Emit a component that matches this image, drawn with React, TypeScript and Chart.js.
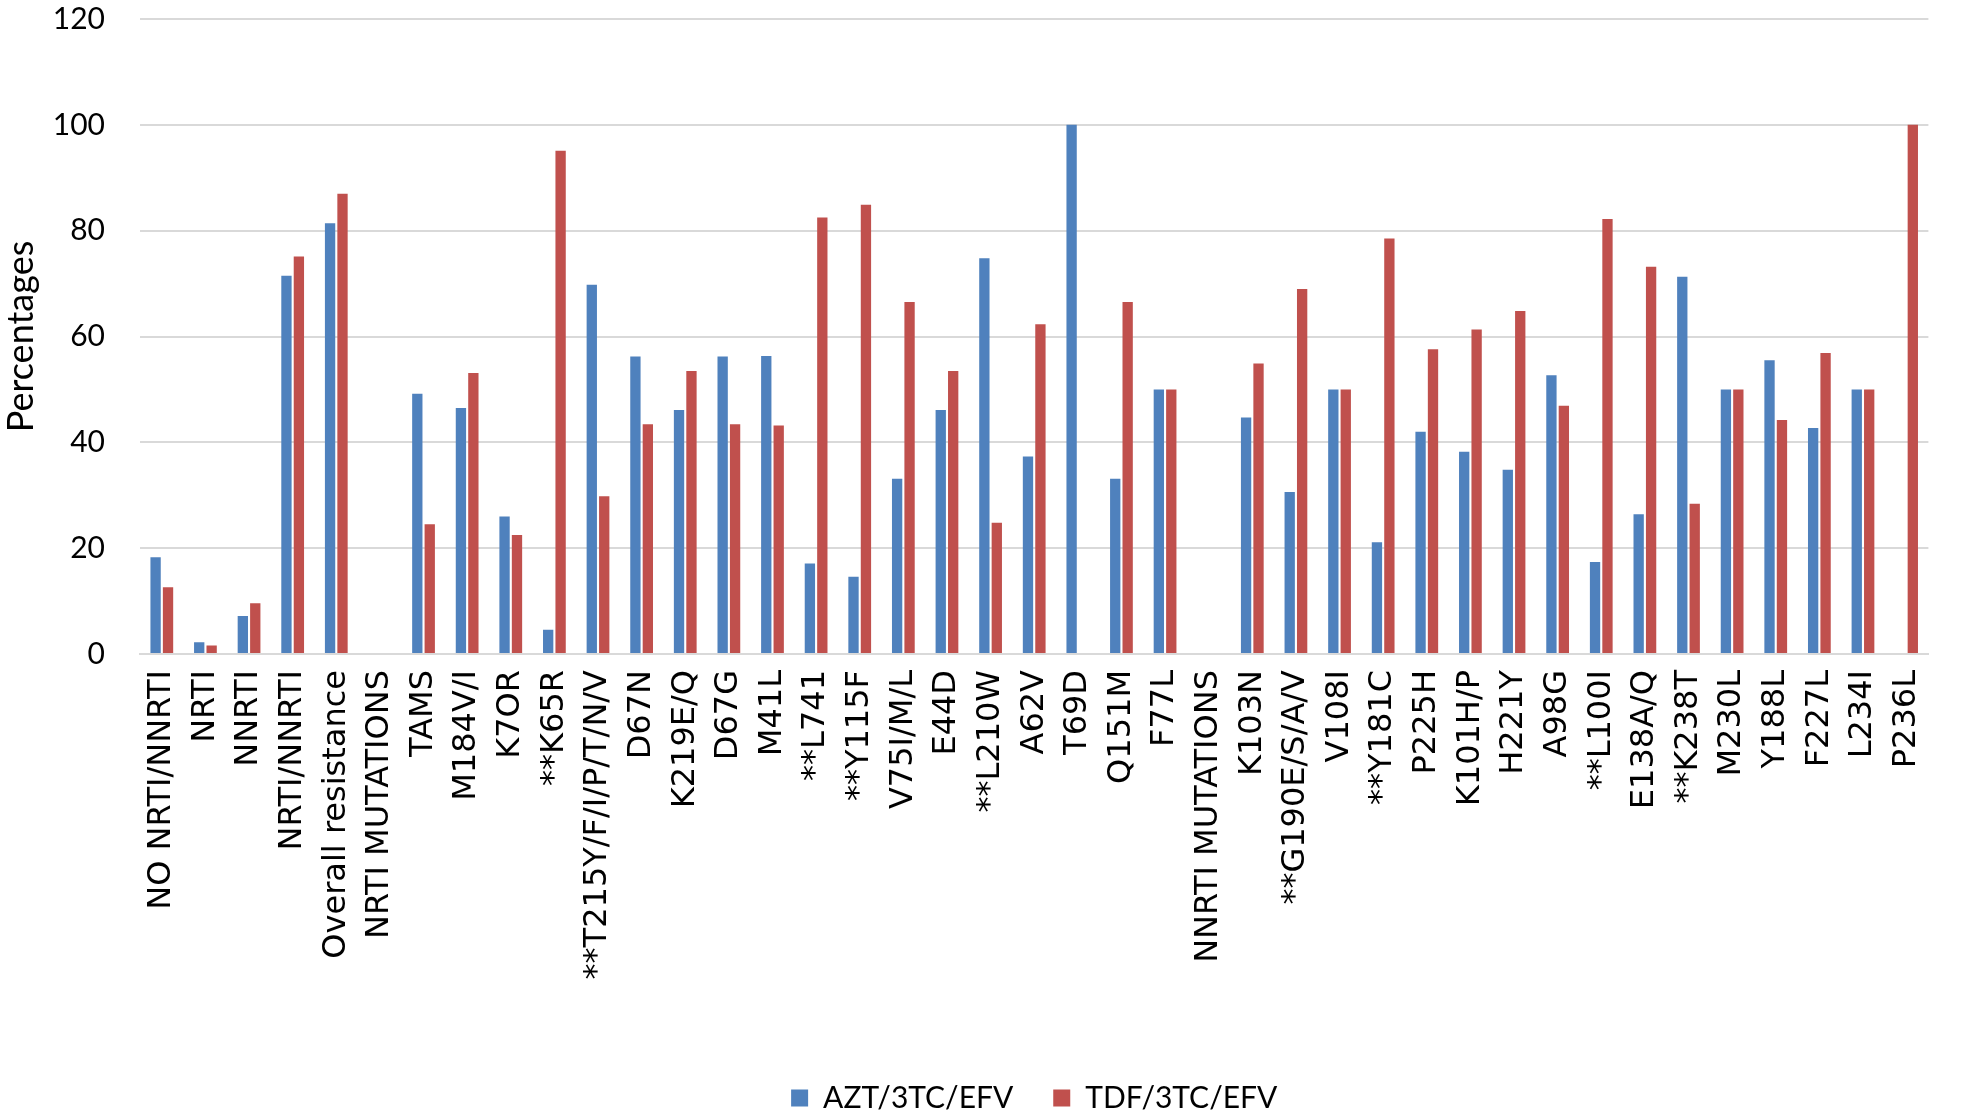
import React, { useEffect, useRef } from "react";
import { Chart, registerables } from "chart.js";

Chart.register(...registerables);

const categories: string[] = [
  "NO NRTI/NNRTI", "NRTI", "NNRTI", "NRTI/NNRTI", "Overall resistance", "NRTI MUTATIONS",
  "TAMS", "M184V/I", "K7OR", "**K65R", "**T215Y/F/I/P/T/N/V", "D67N", "K219E/Q", "D67G",
  "M41L", "**L741", "**Y115F", "V75I/M/L", "E44D", "**L210W", "A62V", "T69D", "Q151M",
  "F77L", "NNRTI MUTATIONS", "K103N", "**G190E/S/A/V", "V108I", "**Y181C", "P225H",
  "K101H/P", "H221Y", "A98G", "**L100I", "E138A/Q", "**K238T", "M230L", "Y188L",
  "F227L", "L234I", "P236L",
];

const aztValues: (number | null)[] = [
  18.3, 2.2, 7.2, 71.5, 81.4, null,
  49.2, 46.5, 26.0, 4.6, 69.8, 56.2, 46.1, 56.2,
  56.3, 17.1, 14.6, 33.1, 46.1, 74.8, 37.3, 100, 33.1,
  50, null, 44.7, 30.6, 50, 21.1, 42.0,
  38.2, 34.8, 52.7, 17.4, 26.4, 71.3, 50, 55.5,
  42.7, 50, null,
];

const tdfValues: (number | null)[] = [
  12.6, 1.6, 9.6, 75.1, 87.0, null,
  24.5, 53.1, 22.5, 95.1, 29.8, 43.4, 53.5, 43.4,
  43.2, 82.5, 84.9, 66.5, 53.5, 24.8, 62.3, null, 66.5,
  50, null, 54.9, 69.0, 50, 78.5, 57.6,
  61.3, 64.8, 46.9, 82.2, 73.2, 28.4, 50, 44.2,
  56.9, 50, 100,
];

const seriesNames: string[] = ["AZT/3TC/EFV", "TDF/3TC/EFV"];
const seriesColors: string[] = ["#4F81BD", "#C0504D"];

export default function App() {
  const canvasRef = useRef<HTMLCanvasElement | null>(null);

  useEffect(() => {
    document.body.style.margin = "0";
    document.body.style.background = "#ffffff";
    const canvas = canvasRef.current;
    if (!canvas) return;
    const chart = new Chart(canvas, {
      type: "bar",
      data: {
        labels: categories,
        datasets: [
          {
            label: seriesNames[0],
            data: aztValues,
            backgroundColor: seriesColors[0],
            categoryPercentage: 0.57,
            barPercentage: 0.83,
          },
          {
            label: seriesNames[1],
            data: tdfValues,
            backgroundColor: seriesColors[1],
            categoryPercentage: 0.57,
            barPercentage: 0.83,
          },
        ],
      },
      options: {
        animation: false,
        responsive: false,
        maintainAspectRatio: false,
        layout: { padding: { left: 0, right: 0, top: 0, bottom: -7 } },
        plugins: {
          legend: {
            position: "bottom",
            fullSize: false,
            labels: {
              font: { family: "Lato", size: 30 },
              color: "#000000",
              boxWidth: 17,
              boxHeight: 17,
              padding: 40,
            },
          },
          tooltip: { enabled: false },
        },
        scales: {
          x: {
            grid: { display: false, drawTicks: false },
            border: { display: true, color: "#d9d9d9", width: 2 },
            ticks: {
              autoSkip: false,
              maxRotation: 90,
              minRotation: 90,
              padding: 16,
              color: "#000000",
              font: { family: "DejaVu Sans", size: 32 },
            },
            afterFit: (scale: any) => {
              scale.height = 389;
            },
          },
          y: {
            min: 0,
            max: 120,
            ticks: {
              stepSize: 20,
              padding: 35,
              color: "#000000",
              font: { family: "Lato", size: 30 },
            },
            grid: { color: "#d9d9d9", lineWidth: 2, drawTicks: false },
            border: { display: false },
            title: {
              display: true,
              text: "Percentages",
              color: "#000000",
              font: { family: "Lato", size: 36 },
              padding: { top: 0, bottom: 4 },
            },
            afterFit: (scale: any) => {
              scale.width = 140;
              scale.paddingTop = 19;
              scale.paddingBottom = 19;
            },
          },
        },
      },
    });
    return () => {
      chart.destroy();
    };
  }, []);

  return (
    <div style={{ width: 1961, height: 1116 }}>
      <canvas ref={canvasRef} width={1961} height={1116} style={{ display: "block" }} />
    </div>
  );
}
